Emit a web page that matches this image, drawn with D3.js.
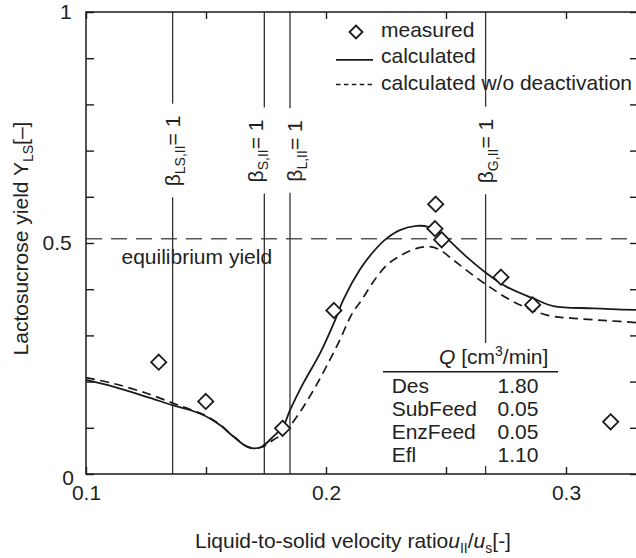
<!DOCTYPE html>
<html>
<head>
<meta charset="utf-8">
<script src="https://cdn.jsdelivr.net/npm/d3@7"></script>
<style>
  html, body { margin: 0; padding: 0; background: #fff; }
  svg { display: block; }
  text { font-family: "Liberation Sans", Arial, Helvetica, sans-serif; fill: #222; }
</style>
</head>
<body>
<svg id="chart" width="636" height="558"></svg>
<script>
// Measured lactosucrose yield vs. liquid-to-solid velocity ratio
const measuredU = [0.1303, 0.1499, 0.1819, 0.2033, 0.2457, 0.2454, 0.2482, 0.2729, 0.2861, 0.3186];
const measuredY = [0.242, 0.157, 0.099, 0.354, 0.584, 0.531, 0.507, 0.426, 0.366, 0.113];

// Model with enzyme deactivation
const calcU = [0.1000, 0.1114, 0.1253, 0.1361, 0.1433, 0.1503, 0.1558, 0.1614, 0.1670, 0.1697,
               0.1732, 0.1780, 0.1822, 0.1850, 0.1905, 0.1975, 0.2038, 0.2072, 0.2142, 0.2197,
               0.2253, 0.2308, 0.2378, 0.2426, 0.2461, 0.2503, 0.2586, 0.2670, 0.2753, 0.2864,
               0.2947, 0.3114, 0.3300];
const calcY = [0.2035, 0.189, 0.167, 0.149, 0.1385, 0.124, 0.106, 0.081, 0.059, 0.0555,
               0.059, 0.081, 0.104, 0.138, 0.196, 0.261, 0.333, 0.377, 0.443, 0.481,
               0.510, 0.528, 0.537, 0.535, 0.526, 0.510, 0.470, 0.434, 0.405, 0.380,
               0.3636, 0.3586, 0.355];

// Model without enzyme deactivation
const calcNoDeactU = [0.1000, 0.1113, 0.1253, 0.1361, 0.1433, 0.1503, 0.1558, 0.1614, 0.1670, 0.1697,
                      0.1732, 0.1780, 0.1829, 0.1895, 0.1944, 0.1996, 0.2051, 0.2110, 0.2149, 0.2197,
                      0.2253, 0.2315, 0.2378, 0.2433, 0.2475, 0.2531, 0.2593, 0.2670, 0.2781, 0.2920,
                      0.3031, 0.3170, 0.3300];
const calcNoDeactY = [0.2085, 0.196, 0.1747, 0.1537, 0.140, 0.125, 0.107, 0.082, 0.060, 0.056,
                      0.058, 0.0736, 0.091, 0.137, 0.178, 0.227, 0.283, 0.348, 0.377, 0.416,
                      0.452, 0.474, 0.4885, 0.492, 0.485, 0.463, 0.438, 0.409, 0.373, 0.344,
                      0.337, 0.332, 0.3275];

// Critical velocity ratios (beta = 1)
const betaSubs = ["LS,II", "S,II", "L,II", "G,II"];
const betaU = [0.1361, 0.1743, 0.1850, 0.2665];

const equilibriumYield = 0.509;

// Axis ticks
const xTicks = [0.1, 0.15, 0.2, 0.25, 0.3];
const xTickLabels = ["0.1", "", "0.2", "", "0.3"];
const yTicks = [0, 0.1, 0.2, 0.3, 0.4, 0.5, 0.6, 0.7, 0.8, 0.9, 1];
const yTickLabels = ["0", "", "", "", "", "0.5", "", "", "", "", "1"];

// Flow-rate table
const flowNames = ["Des", "SubFeed", "EnzFeed", "Efl"];
const flowQ = ["1.80", "0.05", "0.05", "1.10"];

const svg = d3.select("#chart");
const FS = 21;
const ink = "#1a1a1a";

const x = d3.scaleLinear().domain([0.1, 0.33]).range([86, 638]);
const y = d3.scaleLinear().domain([0, 1]).range([474, 12]);
const [x0, x1] = x.range();
const [yb, yt] = y.range();

// Equilibrium yield line
svg.append("line")
  .attr("x1", x0).attr("x2", x1)
  .attr("y1", y(equilibriumYield)).attr("y2", y(equilibriumYield))
  .attr("stroke", "#555").attr("stroke-width", 1.5)
  .attr("stroke-dasharray", "16,9");
svg.append("text")
  .attr("x", 121.5).attr("y", 263.5)
  .attr("font-size", FS)
  .text("equilibrium yield");

// Beta = 1 vertical lines with rotated labels
const labelNudge = [7.5, -1, 11.7, 7.6];
const labelCenterY = 151;
betaU.forEach((u, i) => {
  const lx = x(u);
  const t = svg.append("text")
    .attr("transform", `translate(${lx + labelNudge[i]},${labelCenterY}) rotate(-90)`)
    .attr("text-anchor", "middle")
    .attr("font-size", FS);
  t.append("tspan").text("β");
  t.append("tspan").attr("font-size", 14).attr("dy", 5).text(betaSubs[i]);
  t.append("tspan").attr("dy", -5).text("= 1");
  const len = t.node().getComputedTextLength();
  const gTop = labelCenterY - len / 2 - 12;
  const gBot = labelCenterY + len / 2 + 11;
  svg.append("line").attr("x1", lx).attr("x2", lx).attr("y1", yt).attr("y2", gTop)
    .attr("stroke", "#333").attr("stroke-width", 1.3);
  svg.append("line").attr("x1", lx).attr("x2", lx).attr("y1", gBot).attr("y2", yb)
    .attr("stroke", "#333").attr("stroke-width", 1.3);
});

// Model curves
const lineGen = d3.line().curve(d3.curveCatmullRom.alpha(0.5));
svg.append("path")
  .attr("d", lineGen(calcNoDeactU.map((u, i) => [x(u), y(calcNoDeactY[i])])))
  .attr("fill", "none").attr("stroke", ink).attr("stroke-width", 1.7)
  .attr("stroke-dasharray", "9,5.5");
svg.append("path")
  .attr("d", lineGen(calcU.map((u, i) => [x(u), y(calcY[i])])))
  .attr("fill", "none").attr("stroke", ink).attr("stroke-width", 1.8);

// Flow-rate table (white panel over the gridlines)
const tbl = svg.append("g");
tbl.append("rect").attr("x", 383).attr("y", 343).attr("width", 175).attr("height", 123).attr("fill", "#fff");
const hdr = tbl.append("text").attr("x", 439).attr("y", 363.5).attr("font-size", FS);
hdr.append("tspan").attr("font-style", "italic").text("Q");
hdr.append("tspan").text(" [cm");
hdr.append("tspan").attr("font-size", 14).attr("dy", -8).text("3");
hdr.append("tspan").attr("dy", 8).text("/min]");
tbl.append("line").attr("x1", 383).attr("x2", 558).attr("y1", 371.7).attr("y2", 371.7)
  .attr("stroke", ink).attr("stroke-width", 1.5);
flowNames.forEach((n, i) => {
  const by = 392.5 + i * 23;
  tbl.append("text").attr("x", 391.7).attr("y", by).attr("font-size", FS).text(n);
  tbl.append("text").attr("x", 497.5).attr("y", by).attr("font-size", FS).text(flowQ[i]);
});

// Measured points
const diamond = r => `M0,${-r}L${r},0L0,${r}L${-r},0Z`;
svg.append("g").selectAll("path")
  .data(measuredU.map((u, i) => [u, measuredY[i]]))
  .join("path")
  .attr("transform", d => `translate(${x(d[0])},${y(d[1])})`)
  .attr("d", diamond(7.6))
  .attr("fill", "#fff").attr("stroke", ink).attr("stroke-width", 1.8);

// Axes with inward ticks
const axisStyle = g => {
  g.select(".domain").remove();
  g.selectAll(".tick line").attr("stroke", ink).attr("stroke-width", 1.4);
  g.selectAll(".tick text").attr("font-size", FS).attr("fill", "#222")
    .attr("font-family", "'Liberation Sans', Arial, sans-serif");
};
svg.append("g").attr("transform", `translate(0,${yb})`)
  .call(d3.axisBottom(x).tickValues(xTicks).tickSizeInner(-7).tickSizeOuter(0).tickPadding(11)
    .tickFormat((d, i) => xTickLabels[i]))
  .call(axisStyle);
svg.append("g").attr("transform", `translate(0,${yt})`)
  .call(d3.axisTop(x).tickValues(xTicks).tickSizeInner(-7).tickSizeOuter(0).tickFormat(""))
  .call(axisStyle);
const yAx = svg.append("g").attr("transform", `translate(${x0},0)`)
  .call(d3.axisLeft(y).tickValues(yTicks).tickSizeInner(-8).tickSizeOuter(0).tickPadding(14.3)
    .tickFormat((d, i) => yTickLabels[i]))
  .call(axisStyle);
yAx.selectAll(".tick text").filter(d => d === 0).attr("transform", "translate(2.3,4)");
svg.append("g").attr("transform", `translate(${x1},0)`)
  .call(d3.axisRight(y).tickValues(yTicks).tickSizeInner(-8).tickSizeOuter(0).tickFormat(""))
  .call(axisStyle);

// Frame
svg.append("rect").attr("x", x0).attr("y", yt).attr("width", x1 - x0).attr("height", yb - yt)
  .attr("fill", "none").attr("stroke", ink).attr("stroke-width", 1.5);

// Legend
const lg = svg.append("g");
lg.append("path").attr("transform", "translate(356,32)").attr("d", diamond(6.5))
  .attr("fill", "#fff").attr("stroke", ink).attr("stroke-width", 1.8);
lg.append("text").attr("x", 381).attr("y", 36.5).attr("font-size", FS).text("measured");
lg.append("line").attr("x1", 336).attr("x2", 373).attr("y1", 59.8).attr("y2", 59.8)
  .attr("stroke", ink).attr("stroke-width", 1.8);
lg.append("text").attr("x", 381).attr("y", 63).attr("font-size", FS).text("calculated");
lg.append("line").attr("x1", 336).attr("x2", 373).attr("y1", 84.5).attr("y2", 84.5)
  .attr("stroke", ink).attr("stroke-width", 1.7).attr("stroke-dasharray", "4.5,3.4");
lg.append("text").attr("x", 381).attr("y", 90).attr("font-size", FS).text("calculated w/o deactivation");

// Axis titles
const xt = svg.append("text").attr("x", 195).attr("y", 547.5).attr("font-size", FS);
xt.append("tspan").text("Liquid-to-solid velocity ratio");
xt.append("tspan").attr("font-style", "italic").text("u");
xt.append("tspan").attr("font-size", 14).attr("dy", 5).text("II");
xt.append("tspan").attr("dy", -5).text("/");
xt.append("tspan").attr("font-style", "italic").text("u");
xt.append("tspan").attr("font-size", 14).attr("dy", 5).text("s");
xt.append("tspan").attr("dy", -5).text("[-]");

const yl = svg.append("text")
  .attr("transform", "translate(28.3,238.5) rotate(-90)")
  .attr("text-anchor", "middle").attr("font-size", FS);
yl.append("tspan").text("Lactosucrose yield Y");
yl.append("tspan").attr("font-size", 14).attr("dy", 5).text("LS");
yl.append("tspan").attr("dy", -5).text("[–]");
</script>
</body>
</html>
